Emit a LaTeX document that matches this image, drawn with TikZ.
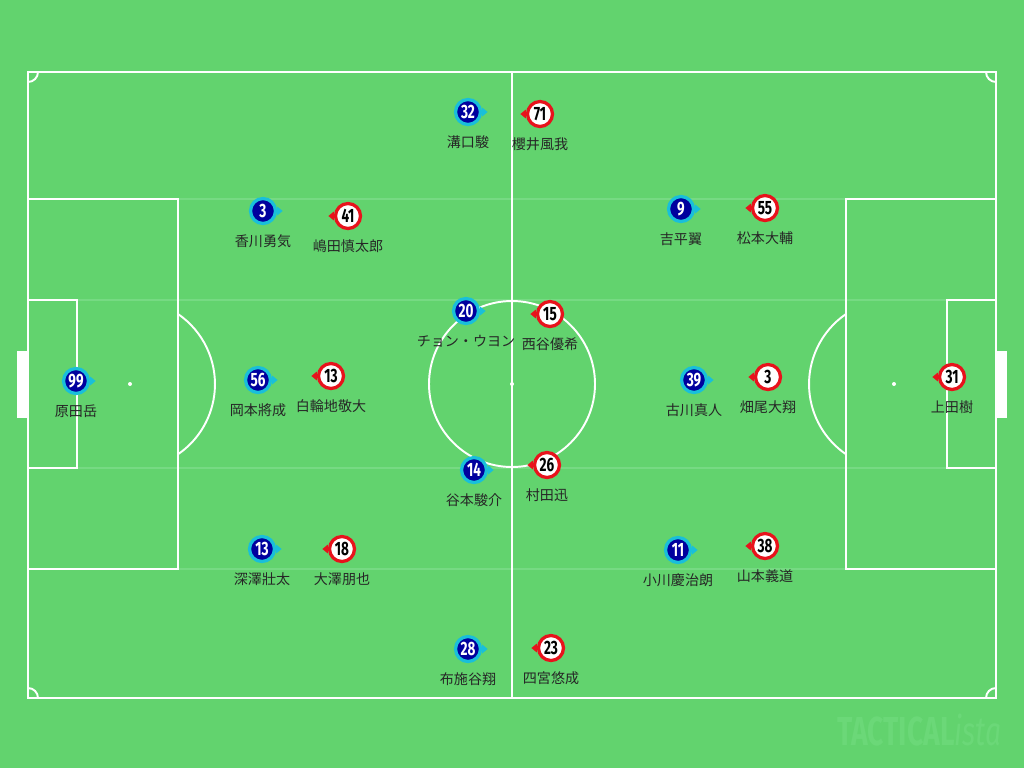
\documentclass[tikz,border=0pt]{standalone}
\usepackage{fontspec}
\usetikzlibrary{positioning}
\newfontfamily\jpfont{Noto Sans CJK JP}
\newfontfamily\numfont[FakeStretch=0.7]{Fira Sans}
\definecolor{pitch}{HTML}{62D36E}
\definecolor{faint}{HTML}{76DA83}
\definecolor{navy}{HTML}{00009E}
\definecolor{ringcyan}{HTML}{19BFDA}
\definecolor{ringred}{HTML}{E8121C}
\definecolor{mark}{HTML}{6BD878}
\tikzset{
  pline/.style={white, line width=1.1pt},
  fline/.style={faint, line width=1.1pt},
  bluep/.style={circle, minimum size=0.5cm, inner sep=0, line width=0.065cm,
    draw=ringcyan, fill=navy, text=white, font=\numfont\bfseries\fontsize{11}{11}\selectfont},
  redp/.style={circle, minimum size=0.5cm, inner sep=0, line width=0.065cm,
    draw=ringred, fill=white, text=black, font=\numfont\bfseries\fontsize{11}{11}\selectfont},
  pname/.style={inner sep=0, text height=7pt, text depth=1pt, text=black!85,
    font=\jpfont\fontsize{8}{8}\selectfont},
}
\begin{document}
\begin{tikzpicture}[x=0.02cm, y=-0.02cm]
    \fill[pitch] (0,0) rectangle (1024,768);
    % faint stripes
    \draw[fline] (28,199) -- (996,199);
    \draw[fline] (28,300) -- (996,300);
    \draw[fline] (28,468) -- (996,468);
    \draw[fline] (28,569) -- (996,569);
    % pitch
    \draw[pline] (28,72) rectangle (996,698);
    \draw[pline] (512,72) -- (512,698);
    \draw[pline] (512,384) circle[radius=83];
    \draw[pline] (28,199) rectangle (178,569);
    \draw[pline] (846,199) rectangle (996,569);
    \draw[pline] (28,300) rectangle (77,468);
    \draw[pline] (947,300) rectangle (996,468);
    \draw[pline] (178,314) arc[start angle=-55.6, end angle=55.6, radius=85];
    \draw[pline] (846,314) arc[start angle=235.6, end angle=124.4, radius=85];
    \draw[pline] (38,72) arc[start angle=0, end angle=90, radius=10];
    \draw[pline] (986,72) arc[start angle=180, end angle=90, radius=10];
    \draw[pline] (28,688) arc[start angle=-90, end angle=0, radius=10];
    \draw[pline] (996,688) arc[start angle=-90, end angle=-180, radius=10];
    \fill[white] (512,384) circle[radius=2];
    \fill[white] (130,384) circle[radius=2];
    \fill[white] (894,384) circle[radius=2];
    \fill[white] (17,351) rectangle (28,418);
    \fill[white] (996,351) rectangle (1007,418);
    \node[anchor=base west, inner sep=0, text=mark] (wm) at (837,745)
        {\numfont\fontsize{23}{23}\selectfont\bfseries TACTICAL\mdseries\itshape ista};

    % blue team
    \node[bluep] (b32) at (468,112) {32};
    \node[bluep] (b3) at (263,211) {3};
    \node[bluep] (b9) at (681,209) {9};
    \node[bluep] (b20) at (466,311) {20};
    \node[bluep] (b99) at (76,381) {99};
    \node[bluep] (b56) at (258,380) {56};
    \node[bluep] (b39) at (694,380) {39};
    \node[bluep] (b14) at (474,470) {14};
    \node[bluep] (b13) at (262,549) {13};
    \node[bluep] (b11) at (678,550) {11};
    \node[bluep] (b28) at (468,649) {28};

    \node[pname, below=0.17cm of b32] (nb32) {溝口駿};
    \node[pname, below=0.17cm of b3] (nb3) {香川勇気};
    \node[pname, below=0.17cm of b9] (nb9) {吉平翼};
    \node[pname, below=0.17cm of b20] (nb20) {チョン・ウヨン};
    \node[pname, below=0.17cm of b99] (nb99) {原田岳};
    \node[pname, below=0.17cm of b56] (nb56) {岡本將成};
    \node[pname, below=0.17cm of b39] (nb39) {古川真人};
    \node[pname, below=0.17cm of b14] (nb14) {谷本駿介};
    \node[pname, below=0.17cm of b13] (nb13) {深澤壯太};
    \node[pname, below=0.17cm of b11] (nb11) {小川慶治朗};
    \node[pname, below=0.17cm of b28] (nb28) {布施谷翔};

    \fill[ringcyan] ([yshift=0.09cm]b32.east) -- ([xshift=0.11cm]b32.east) -- ([yshift=-0.09cm]b32.east) -- cycle;
    \fill[ringcyan] ([yshift=0.09cm]b3.east) -- ([xshift=0.11cm]b3.east) -- ([yshift=-0.09cm]b3.east) -- cycle;
    \fill[ringcyan] ([yshift=0.09cm]b9.east) -- ([xshift=0.11cm]b9.east) -- ([yshift=-0.09cm]b9.east) -- cycle;
    \fill[ringcyan] ([yshift=0.09cm]b20.east) -- ([xshift=0.11cm]b20.east) -- ([yshift=-0.09cm]b20.east) -- cycle;
    \fill[ringcyan] ([yshift=0.09cm]b99.east) -- ([xshift=0.11cm]b99.east) -- ([yshift=-0.09cm]b99.east) -- cycle;
    \fill[ringcyan] ([yshift=0.09cm]b56.east) -- ([xshift=0.11cm]b56.east) -- ([yshift=-0.09cm]b56.east) -- cycle;
    \fill[ringcyan] ([yshift=0.09cm]b39.east) -- ([xshift=0.11cm]b39.east) -- ([yshift=-0.09cm]b39.east) -- cycle;
    \fill[ringcyan] ([yshift=0.09cm]b14.east) -- ([xshift=0.11cm]b14.east) -- ([yshift=-0.09cm]b14.east) -- cycle;
    \fill[ringcyan] ([yshift=0.09cm]b13.east) -- ([xshift=0.11cm]b13.east) -- ([yshift=-0.09cm]b13.east) -- cycle;
    \fill[ringcyan] ([yshift=0.09cm]b11.east) -- ([xshift=0.11cm]b11.east) -- ([yshift=-0.09cm]b11.east) -- cycle;
    \fill[ringcyan] ([yshift=0.09cm]b28.east) -- ([xshift=0.11cm]b28.east) -- ([yshift=-0.09cm]b28.east) -- cycle;

    % red team
    \node[redp] (r71) at (540,114) {71};
    \node[redp] (r41) at (348,216) {41};
    \node[redp] (r55) at (765,208) {55};
    \node[redp] (r15) at (550,314) {15};
    \node[redp] (r13) at (331,376) {13};
    \node[redp] (r3) at (768,377) {3};
    \node[redp] (r31) at (952,377) {31};
    \node[redp] (r26) at (547,465) {26};
    \node[redp] (r18) at (342,549) {18};
    \node[redp] (r38) at (765,546) {38};
    \node[redp] (r23) at (551,648) {23};

    \node[pname, below=0.17cm of r71] (nr71) {櫻井風我};
    \node[pname, below=0.17cm of r41] (nr41) {嶋田慎太郎};
    \node[pname, below=0.17cm of r55] (nr55) {松本大輔};
    \node[pname, below=0.17cm of r15] (nr15) {西谷優希};
    \node[pname, below=0.17cm of r13] (nr13) {白輪地敬大};
    \node[pname, below=0.17cm of r3] (nr3) {畑尾大翔};
    \node[pname, below=0.17cm of r31] (nr31) {上田樹};
    \node[pname, below=0.17cm of r26] (nr26) {村田迅};
    \node[pname, below=0.17cm of r18] (nr18) {大澤朋也};
    \node[pname, below=0.17cm of r38] (nr38) {山本義道};
    \node[pname, below=0.17cm of r23] (nr23) {四宮悠成};

    \fill[ringred] ([yshift=0.09cm]r71.west) -- ([xshift=-0.11cm]r71.west) -- ([yshift=-0.09cm]r71.west) -- cycle;
    \fill[ringred] ([yshift=0.09cm]r41.west) -- ([xshift=-0.11cm]r41.west) -- ([yshift=-0.09cm]r41.west) -- cycle;
    \fill[ringred] ([yshift=0.09cm]r55.west) -- ([xshift=-0.11cm]r55.west) -- ([yshift=-0.09cm]r55.west) -- cycle;
    \fill[ringred] ([yshift=0.09cm]r15.west) -- ([xshift=-0.11cm]r15.west) -- ([yshift=-0.09cm]r15.west) -- cycle;
    \fill[ringred] ([yshift=0.09cm]r13.west) -- ([xshift=-0.11cm]r13.west) -- ([yshift=-0.09cm]r13.west) -- cycle;
    \fill[ringred] ([yshift=0.09cm]r3.west) -- ([xshift=-0.11cm]r3.west) -- ([yshift=-0.09cm]r3.west) -- cycle;
    \fill[ringred] ([yshift=0.09cm]r31.west) -- ([xshift=-0.11cm]r31.west) -- ([yshift=-0.09cm]r31.west) -- cycle;
    \fill[ringred] ([yshift=0.09cm]r26.west) -- ([xshift=-0.11cm]r26.west) -- ([yshift=-0.09cm]r26.west) -- cycle;
    \fill[ringred] ([yshift=0.09cm]r18.west) -- ([xshift=-0.11cm]r18.west) -- ([yshift=-0.09cm]r18.west) -- cycle;
    \fill[ringred] ([yshift=0.09cm]r38.west) -- ([xshift=-0.11cm]r38.west) -- ([yshift=-0.09cm]r38.west) -- cycle;
    \fill[ringred] ([yshift=0.09cm]r23.west) -- ([xshift=-0.11cm]r23.west) -- ([yshift=-0.09cm]r23.west) -- cycle;
\end{tikzpicture}
\end{document}
